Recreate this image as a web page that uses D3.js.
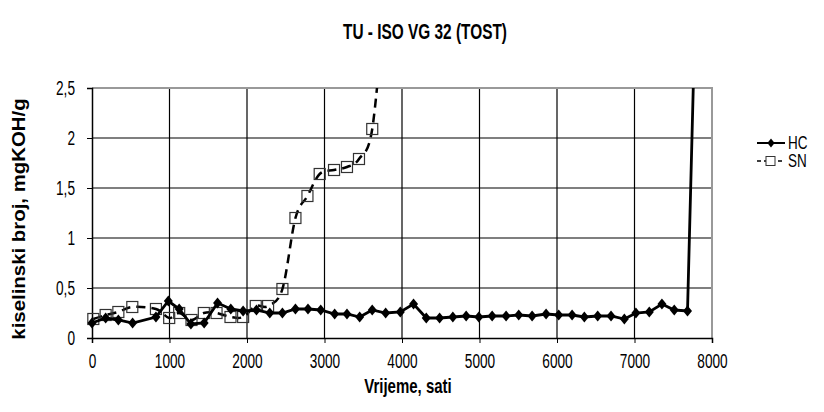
<!DOCTYPE html>
<html>
<head>
<meta charset="utf-8">
<script src="https://cdn.jsdelivr.net/npm/d3@7"></script>
<style>
    body { margin: 0; background: #fff; }
    text { font-family: "Liberation Sans", Arial, sans-serif; fill: #000; }
</style>
</head>
<body>
<div id="chart"></div>
<script>
// HC - puna linija s rombovima
var hcHours = [0, 176, 340, 524, 825, 985, 1125, 1276, 1447, 1620, 1791, 1950, 2122, 2294, 2457, 2625, 2787, 2951,
    3131, 3290, 3454, 3616, 3789, 3978, 4149, 4313, 4485, 4656, 4828, 4991, 5163, 5343, 5506, 5679, 5859, 6022,
    6195, 6353, 6525, 6697, 6869, 7018, 7191, 7354, 7513, 7684, 7780];
var hcValues = [0.15, 0.20, 0.18, 0.15, 0.21, 0.37, 0.29, 0.14, 0.15, 0.35, 0.29, 0.27, 0.28, 0.25, 0.25, 0.29, 0.29, 0.28,
    0.24, 0.24, 0.21, 0.28, 0.25, 0.26, 0.34, 0.20, 0.20, 0.21, 0.22, 0.21, 0.22, 0.22, 0.23, 0.22, 0.24, 0.23,
    0.23, 0.21, 0.22, 0.22, 0.19, 0.25, 0.26, 0.34, 0.28, 0.27, 3.16];

// SN - isprekidana linija s kvadratima
var snHours = [17, 176, 340, 520, 825, 996, 1125, 1284, 1443, 1607, 1787, 1950, 2113, 2272, 2457, 2625, 2780, 2938,
    3123, 3290, 3445, 3616, 3780];
var snValues = [0.19, 0.23, 0.26, 0.31, 0.29, 0.20, 0.25, 0.18, 0.25, 0.25, 0.21, 0.21, 0.32, 0.32, 0.49, 1.20, 1.42, 1.64,
    1.68, 1.71, 1.79, 2.09, 3.40];

var xTicks = [0, 1000, 2000, 3000, 4000, 5000, 6000, 7000, 8000];
var yTicks = [0, 0.5, 1, 1.5, 2, 2.5];
var yTickLabels = ["0", "0,5", "1", "1,5", "2", "2,5"];
var seriesNames = ["HC", "SN"];

var svg = d3.select("#chart")
        .append("svg")
        .attr("width", 824)
        .attr("height", 412),
    margin = {top: 88, right: 112, bottom: 74, left: 92},
    width = 824 - margin.left - margin.right,
    height = 412 - margin.top - margin.bottom,
    g = svg.append("g").attr("transform", "translate(" + margin.left + "," + margin.top + ")"),
    x = d3.scaleLinear().domain([0, 8000]).range([0, width]),
    y = d3.scaleLinear().domain([0, 2.5]).range([height, 0]),
    narrow = 0.65;   // tekst u originalu je uzak (Arial Narrow)

var hc = hcHours.map(function(h, i) { return {x: h, y: hcValues[i]}; });
var sn = snHours.map(function(h, i) { return {x: h, y: snValues[i]}; });

svg.append("text")
    .attr("transform", "translate(425,39) scale(0.7,1)")
    .attr("text-anchor", "middle")
    .style("font-size", "22px")
    .style("font-weight", "bold")
    .text("TU - ISO VG 32 (TOST)");

g.append("clipPath")
    .attr("id", "clip-main")
    .append("rect")
    .attr("x", -8)
    .attr("y", 0)
    .attr("width", width + 16)
    .attr("height", height + 8);

// mreza
g.selectAll(".hgrid")
    .data(yTicks.slice(1, -1))
    .enter().append("line")
    .attr("x1", 0).attr("x2", width)
    .attr("y1", d => y(d)).attr("y2", d => y(d))
    .attr("stroke", "#000").attr("stroke-width", 1.2);

g.selectAll(".vgrid")
    .data(xTicks.slice(1, -1))
    .enter().append("line")
    .attr("y1", 0).attr("y2", height)
    .attr("x1", d => x(d)).attr("x2", d => x(d))
    .attr("stroke", "#000").attr("stroke-width", 1.2);

g.append("path")
    .attr("d", "M0,0H" + width + "V" + height)
    .attr("fill", "none")
    .attr("stroke", "#999")
    .attr("stroke-width", 2);

var xAxis = g.append("g")
    .attr("transform", "translate(0," + height + ")")
    .call(d3.axisBottom(x).tickValues(xTicks).tickSize(5).tickPadding(10).tickFormat(d3.format("d")));

var yAxis = g.append("g")
    .call(d3.axisLeft(y).tickValues(yTicks).tickSize(5).tickPadding(12)
        .tickFormat(function(d, i) { return yTickLabels[i]; }));

[xAxis, yAxis].forEach(function(a) {
    a.select(".domain").attr("stroke", "#000").attr("stroke-width", 1.5);
    a.selectAll(".tick line").attr("stroke", "#000");
    a.selectAll(".tick text")
        .attr("transform", "scale(" + narrow + ",1)")
        .style("font-size", "21px");
});
yAxis.selectAll(".tick text").attr("x", -17 / narrow);

svg.append("text")
    .attr("transform", "translate(408,393) scale(0.75,1)")
    .attr("text-anchor", "middle")
    .style("font-size", "20px")
    .style("font-weight", "bold")
    .text("Vrijeme, sati");

svg.append("text")
    .attr("transform", "translate(25,219) rotate(-90) scale(1.02,0.95)")
    .attr("text-anchor", "middle")
    .style("font-size", "20px")
    .style("font-weight", "bold")
    .text("kiselinski broj, mgKOH/g");

var lineHC = d3.line()
    .x(d => x(d.x))
    .y(d => y(d.y));

var lineSN = d3.line()
    .curve(d3.curveCardinal.tension(0))
    .x(d => x(d.x))
    .y(d => y(d.y));

var plot = g.append("g").attr("clip-path", "url(#clip-main)");

plot.append("path")
    .attr("d", lineSN(sn))
    .attr("fill", "none")
    .attr("stroke", "#000")
    .attr("stroke-width", 2.5)
    .attr("stroke-dasharray", "9,6");

plot.selectAll(".sq")
    .data(sn)
    .enter().append("rect")
    .attr("x", d => x(d.x) - 5.5)
    .attr("y", d => y(d.y) - 5.5)
    .attr("width", 11)
    .attr("height", 11)
    .attr("fill", "none")
    .attr("stroke", "#333")
    .attr("stroke-width", 1.2);

plot.append("path")
    .attr("d", lineHC(hc))
    .attr("fill", "none")
    .attr("stroke", "#000")
    .attr("stroke-width", 2.8);

var diamond = "M0,-5.5L4.5,0L0,5.5L-4.5,0Z";

plot.selectAll(".dm")
    .data(hc)
    .enter().append("path")
    .attr("transform", d => "translate(" + x(d.x) + "," + y(d.y) + ")")
    .attr("d", diamond)
    .attr("fill", "#000");

// legenda
var legend = svg.append("g").attr("transform", "translate(757,143)");

seriesNames.forEach(function(name, i) {
    var row = legend.append("g").attr("transform", "translate(0," + (i * 18) + ")");
    row.append("line")
        .attr("x1", 0).attr("x2", 28)
        .attr("stroke", "#000")
        .attr("stroke-width", i ? 1.5 : 2)
        .attr("stroke-dasharray", i ? "4,3" : null);
    if (i) {
        row.append("rect")
            .attr("x", 9).attr("y", -4.5)
            .attr("width", 9).attr("height", 9)
            .attr("fill", "#fff").attr("stroke", "#333");
    } else {
        row.append("path")
            .attr("transform", "translate(14,0) scale(0.8)")
            .attr("d", diamond)
            .attr("fill", "#000");
    }
    row.append("text")
        .attr("transform", "translate(31,6) scale(0.75,1)")
        .style("font-size", "18px")
        .text(name);
});
</script>
</body>
</html>
